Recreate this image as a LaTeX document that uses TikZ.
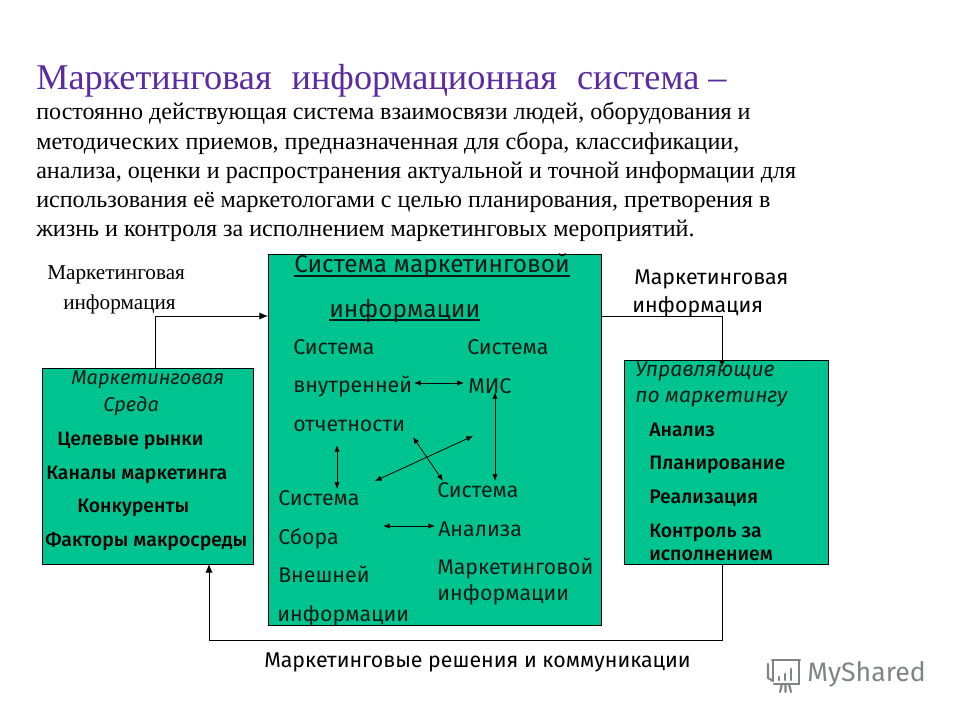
\documentclass[tikz,border=0pt]{standalone}
\usepackage{fontspec}
\setmainfont{Liberation Serif}
\newfontfamily\hand{Fira Sans}
\newfontfamily\handb{Fira Sans Medium}
\usetikzlibrary{arrows.meta}
\definecolor{boxgreen}{HTML}{00C48F}
\definecolor{titleviolet}{HTML}{5A2CA0}
\definecolor{ink}{HTML}{0A1A14}
\definecolor{wm}{HTML}{7F8583}
\newsavebox{\ulbox}
\newcommand{\thickul}[1]{\sbox{\ulbox}{#1}\rlap{\rule[-3pt]{\wd\ulbox}{1.3pt}}\usebox{\ulbox}}
\tikzset{
  x=0.75pt,y=-0.75pt,
  panel/.style={draw=black,line width=0.7pt,fill=boxgreen,inner sep=0pt,anchor=north west},
  title/.style={anchor=base west,inner sep=0pt,font=\fontsize{27.2pt}{27.2pt}\selectfont,text=titleviolet},
  body/.style={anchor=base west,inner sep=0pt,font=\fontsize{18.05pt}{18.05pt}\selectfont,text=black},
  serif/.style={anchor=base west,inner sep=0pt,font=\fontsize{15.9pt}{15.9pt}\selectfont,text=black},
  lab/.style={anchor=base west,inner sep=0pt,font=\hand\fontsize{16pt}{16pt}\selectfont,text=ink},
  labh/.style={anchor=base west,inner sep=0pt,font=\hand\fontsize{18.3pt}{18.3pt}\selectfont,text=ink},
  labk/.style={anchor=base west,inner sep=0pt,font=\hand\fontsize{16pt}{16pt}\selectfont,text=black},
  labi/.style={anchor=base west,inner sep=0pt,font=\hand\itshape\fontsize{15.8pt}{15.8pt}\selectfont,text=ink},
  labe/.style={anchor=base west,inner sep=0pt,font=\hand\itshape\fontsize{15pt}{15pt}\selectfont,text=ink},
  labb/.style={anchor=base west,inner sep=0pt,font=\handb\fontsize{14.6pt}{14.6pt}\selectfont,text=black},
  conn/.style={draw=black,line width=0.7pt,-{Latex[length=6.5pt,width=5.5pt]}},
  plain/.style={draw=black,line width=0.7pt},
  twoway/.style={draw=black,line width=0.6pt,{Latex[length=5pt,width=4pt]}-{Latex[length=5pt,width=4pt]}},
}
\begin{document}
\begin{tikzpicture}
\useasboundingbox (0,0) rectangle (960,720);
\fill[white] (0,0) rectangle (960,720);
% panels
\node[panel,minimum width=333*0.75pt,minimum height=371*0.75pt] (sys) at (268,254) {};
\node[panel,minimum width=211*0.75pt,minimum height=196*0.75pt] (env) at (42,368) {};
\node[panel,minimum width=204*0.75pt,minimum height=204*0.75pt] (mgr) at (624,360) {};
% heading
\node[title] (t0) at (36,90) {Маркетинговая\hspace{0.3em} информационная\hspace{0.3em} система –};
\node[body] (t1) at (36,120) {постоянно действующая система взаимосвязи людей, оборудования и};
\node[body] (t2) at (36,150) {методических приемов, предназначенная для сбора, классификации,};
\node[body] (t3) at (36,179) {анализа, оценки и распространения актуальной и точной информации для};
\node[body] (t4) at (36,208) {использования её маркетологами с целью планирования, претворения в};
\node[body] (t5) at (36,237) {жизнь и контроля за исполнением маркетинговых мероприятий.};
% outside labels
\node[serif] (li1) at (47,280) {Маркетинговая};
\node[serif] (li2) at (63,310) {информация};
\node[labk] (ro1) at (634,285) {Маркетинговая};
\node[labk] (ro2) at (632,312) {информация};
\node[labk] (bot) at (264,667) {Маркетинговые решения и коммуникации};
% centre panel
\node[labh] (s0) at (294,273) {\thickul{Система маркетинговой}};
\node[labh] (s1) at (329,317) {\thickul{информации}};
\node[lab] (a1) at (293,354) {Система};
\node[lab] (a2) at (293,392) {внутренней};
\node[lab] (a3) at (293,431) {отчетности};
\node[lab] (b1) at (467,354) {Система};
\node[lab] (b2) at (468,393) {МИС};
\node[lab] (c1) at (278,505) {Система};
\node[lab] (c2) at (278,544) {Сбора};
\node[lab] (c3) at (278,582) {Внешней};
\node[lab] (c4) at (277,621) {информации};
\node[lab] (d1) at (437,497) {Система};
\node[lab] (d2) at (438,536) {Анализа};
\node[lab] (d3) at (437,574) {Маркетинговой};
\node[lab] (d4) at (437,600) {информации};
% left panel
\node[labe] (e1) at (71,384) {Маркетинговая};
\node[labe] (e2) at (103,411) {Среда};
\node[labb] (e3) at (57,445) {Целевые рынки};
\node[labb] (e4) at (46,479) {Каналы маркетинга};
\node[labb] (e5) at (77,512) {Конкуренты};
\node[labb] (e6) at (45,546) {Факторы макросреды};
% right panel
\node[labi] (m1) at (635,376) {Управляющие};
\node[labi] (m2) at (635,402) {по маркетингу};
\node[labb] (m3) at (649,436) {Анализ};
\node[labb] (m4) at (649,469) {Планирование};
\node[labb] (m5) at (649,503) {Реализация};
\node[labb] (m6) at (649,537) {Контроль за};
\node[labb] (m7) at (649,560) {исполнением};
% connector anchors
\coordinate (envout) at (155,368);
\coordinate (sysin) at (268,316);
\coordinate (sysout) at (601,316);
\coordinate (mgrin) at (722,367);
\coordinate (mgrout) at (722,564);
\coordinate (envin) at (209,564);
\coordinate (ia1) at (414,383); \coordinate (ib1) at (464,383);
\coordinate (ia2) at (495,392); \coordinate (ib2) at (495,481);
\coordinate (ia3) at (337,445); \coordinate (ib3) at (337,489);
\coordinate (ia4) at (473,436); \coordinate (ib4) at (375,481);
\coordinate (ia5) at (413,437); \coordinate (ib5) at (443,481);
\coordinate (ia6) at (383,526); \coordinate (ib6) at (435,526);
% connectors
\draw[conn] (env.north -| envout) |- (sysin);
\draw[conn,-{Latex[length=5pt,width=4.5pt]}] (sysout) -| (mgrin);
\draw[conn] (mgrout) |- (209,640) -- (envin);
\draw[twoway] (ia1) -- (ib1);
\draw[twoway] (ia2) -- (ib2);
\draw[twoway] (ia3) -- (ib3);
\draw[twoway] (ia4) -- (ib4);
\draw[twoway] (ia5) -- (ib5);
\draw[twoway] (ia6) -- (ib6);
% watermark
\node[anchor=base west,inner sep=0pt,font=\hand\fontsize{20pt}{20pt}\selectfont,text=wm] (wmark) at (807,681) {MyShared};
\begin{scope}[draw=wm,line width=1.6pt,line cap=round]
\draw (772,660) -- (800,660);
\draw (773,660) -- (773,681);
\draw (799,660) -- (799,684) -- (774,684);
\draw (768,664) -- (768,678) -- (773,681);
\draw (780,692) -- (782,684) (791,692) -- (789,684) (785.5,692) -- (785.5,684);
\draw[line width=2pt] (779,680) -- (779,677) (785,680) -- (785,674) (791,680) -- (791,669);
\end{scope}
\end{tikzpicture}
\end{document}
